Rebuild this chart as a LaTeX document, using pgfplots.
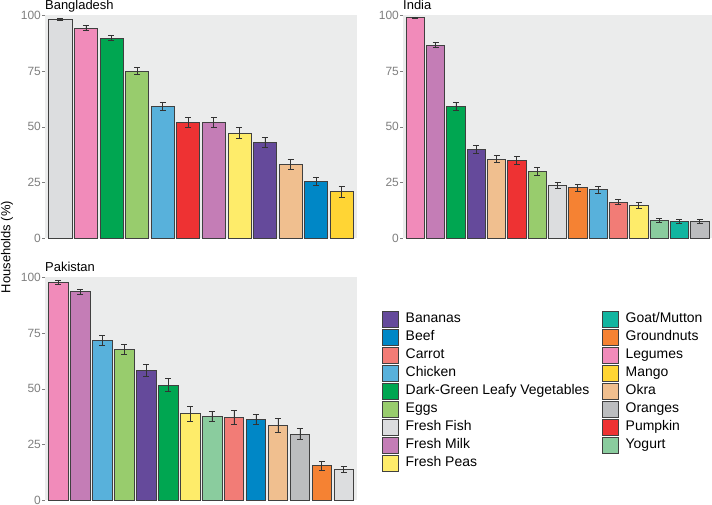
\documentclass[border=0pt]{standalone}
\usepackage{fontspec}
\setmainfont{Liberation Sans}
\usepackage{pgfplots}
\pgfplotsset{compat=1.18}

\definecolor{cBananas}{HTML}{654A9B}
\definecolor{cBeef}{HTML}{0087C6}
\definecolor{cCarrot}{HTML}{F27C76}
\definecolor{cChicken}{HTML}{58B1DB}
\definecolor{cDGLV}{HTML}{00A651}
\definecolor{cEggs}{HTML}{98CC6D}
\definecolor{cFish}{HTML}{DCDDDF}
\definecolor{cMilk}{HTML}{C47DB6}
\definecolor{cPeas}{HTML}{FEEC6A}
\definecolor{cGoat}{HTML}{12B5A0}
\definecolor{cGround}{HTML}{F58233}
\definecolor{cLegumes}{HTML}{F18BBA}
\definecolor{cMango}{HTML}{FFD534}
\definecolor{cOkra}{HTML}{F0BF8F}
\definecolor{cOranges}{HTML}{BCBDBF}
\definecolor{cPumpkin}{HTML}{EE3233}
\definecolor{cYogurt}{HTML}{8ACC9E}
\definecolor{panelbg}{HTML}{EBECEC}
\definecolor{tickgray}{HTML}{7F7F7F}
\definecolor{barline}{HTML}{404040}

\pgfplotsset{
  panel/.style={
    scale only axis, width=312bp, height=223bp,
    ymin=0, ymax=100.3, xmin=0.4,
    ytick={0,25,50,75,100}, xtick=\empty,
    axis line style={draw=none},
    axis background/.style={fill=panelbg},
    ytick pos=left, tick align=outside, major tick length=3bp,
    tick style={tickgray, line width=0.6bp},
    yticklabel style={font=\fontsize{12}{14}\selectfont, text=tickgray, inner sep=0pt, xshift=-1bp},
    /pgf/number format/assume math mode=true,
    every axis title shift=0pt,
    title style={at={(0,1)}, anchor=base west, yshift=5.5bp, inner sep=0pt, font=\fontsize{13}{15}\selectfont},
    clip=false,
  },
  b/.style={ybar, bar width=0.9, bar shift=0pt, fill=#1, draw=barline, line width=0.7bp,
    error bars/.cd, y dir=both, y explicit,
    error bar style={black!80, line width=0.7bp},
    error mark options={rotate=90, black!80, line width=0.7bp, mark size=3bp}},
  leg/.style={hide axis, scale only axis, width=10bp, height=10bp,
    xmin=0, xmax=1, ymin=0, ymax=1, anchor=north west,
    legend style={at={(0,1)}, anchor=north west, draw=none, fill=none,
      inner sep=0pt, outer sep=0pt, row sep=0pt,
      font=\fontsize{14}{16}\selectfont,
      nodes={inner sep=0pt, text height=12bp, text depth=6bp},
      /tikz/every odd column/.append style={column sep=7bp}},
    legend cell align=left,
    legend image code/.code={\draw[##1, draw=barline, line width=0.7bp] (0bp,-8bp) rectangle (16bp,8bp);},
  },
}

\begin{document}
\begin{tikzpicture}
\useasboundingbox (0,0) rectangle (712bp,505bp);

% Bangladesh
\begin{axis}[panel, at={(45bp,267bp)}, anchor=south west, xmax=12.6, title={Bangladesh}]
\addplot[b=cFish]    coordinates {(1,98.4) +- (0,0.3)};
\addplot[b=cLegumes] coordinates {(2,94.5) +- (0,1.0)};
\addplot[b=cDGLV]    coordinates {(3,90.0) +- (0,1.2)};
\addplot[b=cEggs]    coordinates {(4,75.1) +- (0,1.6)};
\addplot[b=cChicken] coordinates {(5,59.2) +- (0,1.8)};
\addplot[b=cPumpkin] coordinates {(6,51.9) +- (0,2.2)};
\addplot[b=cMilk]    coordinates {(7,51.9) +- (0,2.2)};
\addplot[b=cPeas]    coordinates {(8,47.2) +- (0,2.4)};
\addplot[b=cBananas] coordinates {(9,43.0) +- (0,2.1)};
\addplot[b=cOkra]    coordinates {(10,33.1) +- (0,2.2)};
\addplot[b=cBeef]    coordinates {(11,25.6) +- (0,1.9)};
\addplot[b=cMango]   coordinates {(12,20.8) +- (0,2.3)};
\end{axis}

% India
\begin{axis}[panel, at={(403bp,267bp)}, anchor=south west, width=309bp, xmax=15.6, title={India}]
\addplot[b=cLegumes] coordinates {(1,99.1) +- (0,0.3)};
\addplot[b=cMilk]    coordinates {(2,86.8) +- (0,1.0)};
\addplot[b=cDGLV]    coordinates {(3,59.1) +- (0,1.8)};
\addplot[b=cBananas] coordinates {(4,39.9) +- (0,1.7)};
\addplot[b=cOkra]    coordinates {(5,35.5) +- (0,1.7)};
\addplot[b=cPumpkin] coordinates {(6,34.9) +- (0,1.7)};
\addplot[b=cEggs]    coordinates {(7,30.0) +- (0,1.7)};
\addplot[b=cFish]    coordinates {(8,23.7) +- (0,1.5)};
\addplot[b=cGround]  coordinates {(9,22.6) +- (0,1.6)};
\addplot[b=cChicken] coordinates {(10,21.7) +- (0,1.6)};
\addplot[b=cCarrot]  coordinates {(11,16.2) +- (0,1.2)};
\addplot[b=cPeas]    coordinates {(12,14.7) +- (0,1.4)};
\addplot[b=cYogurt]  coordinates {(13,8.0) +- (0,0.9)};
\addplot[b=cGoat]    coordinates {(14,7.5) +- (0,1.0)};
\addplot[b=cOranges] coordinates {(15,7.5) +- (0,1.0)};
\end{axis}

% Pakistan
\begin{axis}[panel, at={(45bp,5bp)}, anchor=south west, xmax=14.6, title={Pakistan}]
\addplot[b=cLegumes] coordinates {(1,97.8) +- (0,0.8)};
\addplot[b=cMilk]    coordinates {(2,93.7) +- (0,1.0)};
\addplot[b=cChicken] coordinates {(3,71.8) +- (0,2.2)};
\addplot[b=cEggs]    coordinates {(4,67.8) +- (0,2.2)};
\addplot[b=cBananas] coordinates {(5,58.2) +- (0,2.8)};
\addplot[b=cDGLV]    coordinates {(6,51.6) +- (0,2.9)};
\addplot[b=cPeas]    coordinates {(7,38.8) +- (0,3.4)};
\addplot[b=cYogurt]  coordinates {(8,37.5) +- (0,2.2)};
\addplot[b=cCarrot]  coordinates {(9,37.0) +- (0,3.1)};
\addplot[b=cBeef]    coordinates {(10,36.3) +- (0,2.3)};
\addplot[b=cOkra]    coordinates {(11,33.4) +- (0,3.1)};
\addplot[b=cOranges] coordinates {(12,29.7) +- (0,2.5)};
\addplot[b=cGround]  coordinates {(13,15.4) +- (0,2.2)};
\addplot[b=cFish]    coordinates {(14,13.8) +- (0,1.3)};
\end{axis}

\node[rotate=90, font=\fontsize{13}{15}\selectfont, inner sep=0pt] at (7bp,258bp) {Households (\%)};

% Legend column 1
\begin{axis}[leg, at={(382bp,195bp)}]
\addlegendimage{fill=cBananas}\addlegendentry{Bananas}
\addlegendimage{fill=cBeef}\addlegendentry{Beef}
\addlegendimage{fill=cCarrot}\addlegendentry{Carrot}
\addlegendimage{fill=cChicken}\addlegendentry{Chicken}
\addlegendimage{fill=cDGLV}\addlegendentry{Dark-Green Leafy Vegetables}
\addlegendimage{fill=cEggs}\addlegendentry{Eggs}
\addlegendimage{fill=cFish}\addlegendentry{Fresh Fish}
\addlegendimage{fill=cMilk}\addlegendentry{Fresh Milk}
\addlegendimage{fill=cPeas}\addlegendentry{Fresh Peas}
\end{axis}

% Legend column 2
\begin{axis}[leg, at={(602bp,195bp)}]
\addlegendimage{fill=cGoat}\addlegendentry{Goat/Mutton}
\addlegendimage{fill=cGround}\addlegendentry{Groundnuts}
\addlegendimage{fill=cLegumes}\addlegendentry{Legumes}
\addlegendimage{fill=cMango}\addlegendentry{Mango}
\addlegendimage{fill=cOkra}\addlegendentry{Okra}
\addlegendimage{fill=cOranges}\addlegendentry{Oranges}
\addlegendimage{fill=cPumpkin}\addlegendentry{Pumpkin}
\addlegendimage{fill=cYogurt}\addlegendentry{Yogurt}
\end{axis}
\end{tikzpicture}
\end{document}
